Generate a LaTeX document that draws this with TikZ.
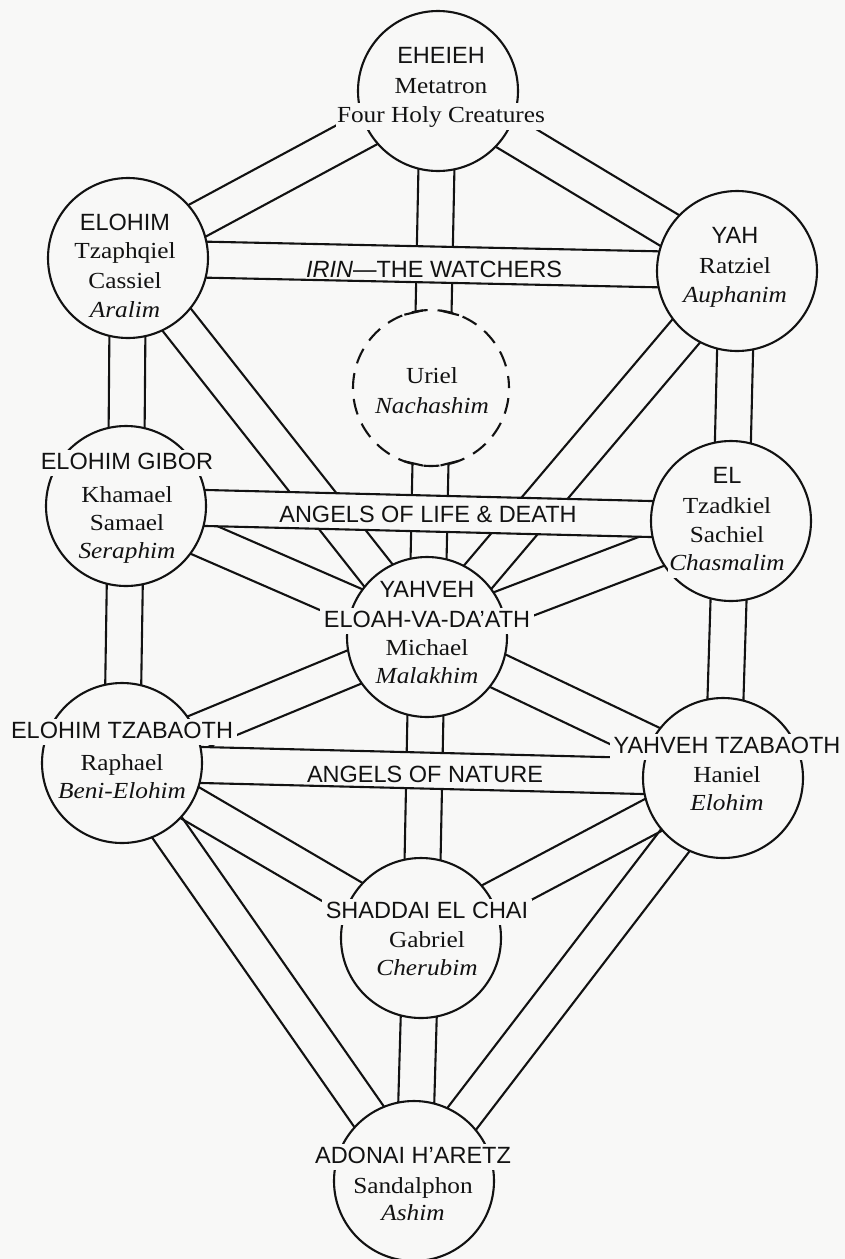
\documentclass[tikz,border=0pt]{standalone}
\usepackage{fontspec}
\setmainfont{Liberation Serif}[FakeStretch=1.1]
\newfontfamily\hsans{Liberation Sans}
\usetikzlibrary{calc}
\pgfdeclarelayer{back}
\pgfdeclarelayer{lines}
\pgfdeclarelayer{bands}
\pgfsetlayers{back,lines,bands,main}
\definecolor{paper}{RGB}{248,248,247}
\definecolor{ink}{RGB}{18,18,18}
\tikzset{ln/.style={draw=ink,line width=2.1pt}}
\newcommand\twinpath[2]{%
  \begin{pgfonlayer}{lines}
  \draw[ln] ($(#1)!18pt!90:(#2)$) -- ($(#2)!18pt!-90:(#1)$);
  \draw[ln] ($(#1)!18pt!-90:(#2)$) -- ($(#2)!18pt!90:(#1)$);
  \end{pgfonlayer}}
\newcommand\bandpath[2]{%
  \begin{pgfonlayer}{bands}
  \fill[paper] ($(#1)!18pt!90:(#2)$) -- ($(#2)!18pt!-90:(#1)$) -- ($(#2)!18pt!90:(#1)$) -- ($(#1)!18pt!-90:(#2)$) -- cycle;
  \draw[ln] ($(#1)!18pt!90:(#2)$) -- ($(#2)!18pt!-90:(#1)$);
  \draw[ln] ($(#1)!18pt!-90:(#2)$) -- ($(#2)!18pt!90:(#1)$);
  \end{pgfonlayer}}
\begin{document}
\begin{tikzpicture}[x=1pt,y=-1pt,color=ink,
  sef/.style={circle,ln,fill=paper,minimum size=160pt,inner sep=0pt,outer sep=0pt},
  lbl/.style={fill=paper,text=ink,anchor=base,inner xsep=4pt,inner ysep=2.5pt,text height=17pt,text depth=4pt},
  nm/.style={lbl,font=\hsans\fontsize{23.5}{28}\selectfont},
  sv/.style={lbl,inner xsep=1.5pt,text depth=5pt,font=\fontsize{23}{28}\selectfont},
  si/.style={sv,font=\fontsize{23}{28}\selectfont\itshape},
  bl/.style={anchor=base,text=ink,inner sep=0pt,font=\hsans\fontsize{23.5}{28}\selectfont}]
\begin{pgfonlayer}{back}
\fill[paper] (0,0) rectangle (845,1259);
\end{pgfonlayer}
\useasboundingbox (0,0) rectangle (845,1259);

% sephiroth circles
\node[sef] (K) at (438,91) {};
\node[sef] (B) at (128,258) {};
\node[sef] (C) at (737,271) {};
\node[sef,dash pattern=on 16pt off 10pt,dash phase=4pt,minimum size=156pt] (D) at (431,388) {};
\node[sef] (G) at (126,506) {};
\node[sef] (H) at (731,521) {};
\node[sef] (T) at (427,637) {};
\node[sef] (O) at (122,763) {};
\node[sef] (N) at (723,778) {};
\node[sef] (Y) at (421,938) {};
\node[sef] (M) at (414,1181) {};

% paths
\twinpath{K}{B}
\twinpath{K}{C}
\twinpath{K}{T}
\twinpath{B}{G}
\twinpath{C}{H}
\twinpath{B}{T}
\twinpath{C}{T}
\twinpath{G}{T}
\twinpath{H}{T}
\twinpath{G}{O}
\twinpath{H}{N}
\twinpath{T}{O}
\twinpath{T}{N}
\twinpath{T}{Y}
\twinpath{O}{Y}
\twinpath{N}{Y}
\twinpath{Y}{M}
\twinpath{O}{M}
\twinpath{N}{M}
\bandpath{B}{C}
\bandpath{G}{H}
\bandpath{O}{N}

% ticks where the middle pillar meets the dashed circle
\foreach \a in {257,284,103,76}
  \draw[ln] ($(D)+(\a-7:78)$) -- ($(D)+(\a+7:78)$);

% band labels
\node[bl] (irin) at (434,277) {{\itshape IRIN}—THE WATCHERS};
\node[bl] (life) at (428,522) {ANGELS OF LIFE \& DEATH};
\node[bl] (nat) at (425,782) {ANGELS OF NATURE};

% texts
\node[nm] (k1) at (441,63) {EHEIEH};
\node[sv] (k2) at (441,93) {Metatron};
\node[sv] (k3) at (441,122) {Four Holy Creatures};

\node[nm] (b1) at (125,230) {ELOHIM};
\node[sv] (b2) at (125,258) {Tzaphqiel};
\node[sv] (b3) at (125,288) {Cassiel};
\node[si] (b4) at (125,317) {Aralim};

\node[nm] (c1) at (735,243) {YAH};
\node[sv] (c2) at (735,273) {Ratziel};
\node[si] (c3) at (735,302) {Auphanim};

\node[sv] (d1) at (432,383) {Uriel};
\node[si] (d2) at (432,413) {Nachashim};

\node[nm] (g1) at (127,469) {ELOHIM GIBOR};
\node[sv] (g2) at (127,502) {Khamael};
\node[sv] (g3) at (127,530) {Samael};
\node[si] (g4) at (127,558) {Seraphim};

\node[nm] (h1) at (727,483) {EL};
\node[sv] (h2) at (727,513) {Tzadkiel};
\node[sv] (h3) at (727,542) {Sachiel};
\node[si] (h4) at (727,570) {Chasmalim};

\node[nm] (t1) at (427,597) {YAHVEH};
\node[nm] (t2) at (427,627) {ELOAH-VA-DA’ATH};
\node[sv] (t3) at (427,655) {Michael};
\node[si] (t4) at (427,683) {Malakhim};

\node[nm] (o1) at (122,738) {ELOHIM TZABAOTH};
\node[sv] (o2) at (122,770) {Raphael};
\node[si] (o3) at (122,798) {Beni-Elohim};

\node[nm] (n1) at (727,753) {YAHVEH TZABAOTH};
\node[sv] (n2) at (727,782) {Haniel};
\node[si] (n3) at (727,810) {Elohim};

\node[nm] (y1) at (427,918) {SHADDAI EL CHAI};
\node[sv] (y2) at (427,947) {Gabriel};
\node[si] (y3) at (427,975) {Cherubim};

\node[nm] (m1) at (413,1163) {ADONAI H’ARETZ};
\node[sv] (m2) at (413,1193) {Sandalphon};
\node[si] (m3) at (413,1220) {Ashim};
\end{tikzpicture}
\end{document}
